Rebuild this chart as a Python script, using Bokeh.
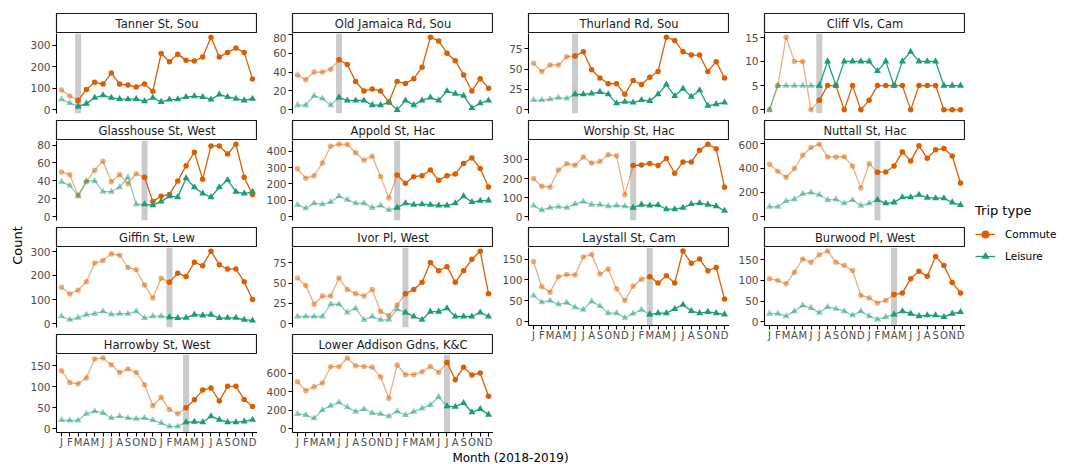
import math
from bokeh.plotting import figure
from bokeh.models import Span, Label, Legend, LegendItem, FixedTicker, Range1d, ColumnDataSource
from bokeh.layouts import row, column
from bokeh.embed import file_html
from bokeh.resources import INLINE

# ---------------- data ----------------
month_labels = ["J", "F", "M", "A", "M", "J", "J", "A", "S", "O", "N", "D"] * 2
months = list(range(24))

names = ["Tanner St, Sou", "Old Jamaica Rd, Sou", "Thurland Rd, Sou", "Cliff Vls, Cam",
         "Glasshouse St, West", "Appold St, Hac", "Worship St, Hac", "Nuttall St, Hac",
         "Giffin St, Lew", "Ivor Pl, West", "Laystall St, Cam", "Burwood Pl, West",
         "Harrowby St, West", "Lower Addison Gdns, K&C"]

# month index (0 = Jan 2018) of the intervention
intervention = [2, 5, 5, 6, 10, 12, 12, 13, 13, 13, 14, 15, 15, 18]

commute_tanner = [92, 65, 44, 95, 128, 120, 171, 120, 115, 106, 120, 87, 262, 224, 259, 230, 227, 246, 338, 246, 267, 287, 267, 143]
leisure_tanner = [49, 32, 16, 29, 56, 68, 56, 51, 49, 51, 40, 56, 37, 48, 49, 60, 63, 60, 48, 71, 60, 52, 44, 52]
commute_oldjam = [37, 32, 40, 40, 43, 53, 48, 30, 20, 22, 20, 8, 30, 28, 33, 45, 77, 73, 60, 52, 37, 20, 33, 23]
leisure_oldjam = [5, 5, 15, 12, 5, 13, 10, 10, 10, 5, 5, 8, 0, 10, 5, 10, 13, 10, 20, 17, 15, 2, 7, 10]
commute_thurland = [57, 47, 55, 55, 65, 66, 71, 49, 39, 32, 32, 19, 36, 31, 40, 47, 89, 85, 71, 67, 67, 47, 59, 39]
leisure_thurland = [12, 12, 13, 15, 14, 19, 19, 20, 22, 19, 8, 10, 9, 12, 11, 19, 31, 17, 26, 16, 24, 5, 7, 9]
commute_cliff = [0, 5, 15, 10, 10, 0, 2, 5, 5, 0, 5, 0, 2, 5, 5, 5, 5, 0, 5, 5, 5, 0, 0, 0]
leisure_cliff = [0, 5, 5, 5, 5, 5, 5, 10, 5, 10, 10, 10, 10, 8, 10, 5, 10, 12, 10, 10, 10, 5, 5, 5]
commute_glass = [50, 47, 24, 39, 52, 62, 39, 47, 37, 48, 44, 17, 23, 25, 40, 57, 72, 42, 79, 79, 70, 81, 44, 25]
leisure_glass = [39, 35, 23, 40, 40, 28, 28, 33, 44, 14, 14, 13, 17, 23, 22, 43, 33, 26, 22, 33, 41, 28, 26, 28]
commute_appold = [292, 235, 250, 327, 429, 442, 440, 390, 344, 369, 246, 115, 254, 204, 244, 250, 285, 223, 250, 260, 325, 358, 294, 181]
leisure_appold = [73, 52, 83, 77, 90, 125, 104, 83, 83, 56, 69, 42, 56, 83, 73, 77, 73, 69, 69, 83, 125, 90, 98, 100]
commute_worship = [200, 160, 155, 245, 277, 270, 313, 281, 289, 324, 319, 115, 268, 271, 279, 268, 305, 228, 287, 287, 348, 380, 356, 155]
leisure_worship = [59, 35, 48, 53, 48, 67, 80, 64, 64, 56, 59, 56, 48, 64, 59, 62, 40, 40, 48, 67, 72, 64, 56, 32]
commute_nuttall = [431, 375, 325, 397, 506, 569, 597, 492, 492, 494, 417, 236, 436, 367, 369, 417, 533, 458, 583, 481, 550, 561, 500, 278]
leisure_nuttall = [83, 83, 130, 144, 189, 200, 181, 139, 144, 111, 139, 92, 111, 139, 111, 119, 161, 161, 181, 158, 153, 153, 119, 97]
commute_giffin = [151, 123, 139, 174, 251, 261, 289, 283, 233, 223, 160, 107, 188, 172, 209, 195, 254, 240, 300, 244, 226, 226, 174, 100]
leisure_giffin = [31, 17, 25, 38, 42, 52, 39, 42, 42, 52, 24, 32, 32, 27, 24, 25, 38, 35, 38, 24, 25, 25, 17, 14]
commute_ivor = [56, 47, 24, 34, 34, 56, 42, 37, 34, 42, 15, 10, 23, 37, 42, 51, 75, 65, 70, 51, 65, 79, 89, 37]
leisure_ivor = [9, 9, 9, 9, 24, 24, 14, 19, 5, 9, 5, 5, 18, 14, 9, 5, 15, 15, 19, 9, 9, 9, 14, 9]
commute_laystall = [144, 84, 71, 108, 113, 112, 155, 161, 114, 126, 79, 51, 85, 102, 108, 93, 110, 93, 169, 140, 150, 122, 130, 55]
leisure_laystall = [63, 47, 51, 42, 46, 35, 29, 49, 38, 21, 21, 10, 20, 29, 18, 21, 21, 31, 41, 26, 21, 24, 21, 18]
commute_burwood = [104, 100, 92, 120, 152, 144, 162, 171, 144, 136, 124, 64, 58, 46, 52, 66, 70, 104, 122, 110, 158, 136, 95, 70]
leisure_burwood = [20, 20, 14, 26, 40, 34, 22, 36, 32, 26, 16, 26, 14, 6, 12, 18, 26, 20, 14, 16, 16, 12, 20, 24]
commute_harrowby = [138, 110, 107, 121, 166, 168, 152, 134, 142, 134, 105, 55, 75, 46, 36, 50, 69, 92, 97, 66, 101, 101, 70, 53]
leisure_harrowby = [21, 20, 20, 36, 42, 38, 26, 30, 26, 24, 26, 21, 14, 6, 6, 16, 17, 16, 30, 22, 16, 16, 18, 22]
commute_addison = [507, 411, 454, 493, 668, 668, 761, 679, 671, 661, 561, 329, 686, 582, 582, 614, 671, 607, 714, 529, 661, 579, 600, 350]
leisure_addison = [161, 150, 114, 204, 250, 286, 232, 186, 214, 171, 161, 136, 189, 150, 186, 221, 257, 346, 243, 239, 279, 179, 214, 154]

y_ticks = [[0, 100, 200, 300], [0, 20, 40, 60, 80], [0, 25, 50, 75], [0, 5, 10, 15],
           [0, 20, 40, 60, 80], [0, 100, 200, 300, 400], [0, 100, 200, 300], [0, 200, 400, 600],
           [0, 100, 200, 300], [0, 25, 50, 75], [0, 50, 100, 150], [0, 50, 100, 150],
           [0, 50, 100, 150], [0, 200, 400, 600]]

commute = [commute_tanner, commute_oldjam, commute_thurland, commute_cliff, commute_glass,
           commute_appold, commute_worship, commute_nuttall, commute_giffin, commute_ivor,
           commute_laystall, commute_burwood, commute_harrowby, commute_addison]
leisure = [leisure_tanner, leisure_oldjam, leisure_thurland, leisure_cliff, leisure_glass,
           leisure_appold, leisure_worship, leisure_nuttall, leisure_giffin, leisure_ivor,
           leisure_laystall, leisure_burwood, leisure_harrowby, leisure_addison]

# ---------------- style ----------------
ORANGE = "#D95F02"
GREEN = "#1B9E77"
PRE_ALPHA = 0.5
FONT = "DejaVu Sans"
TICK_COLOR = "#4D4D4D"
FW, FH = 201, 80        # panel frame size
STRIP_H = 20
GAP = 7
XAXIS_H = 16
TOP = 13
TOTAL_H = 464


def strip(name, lb, top):
    s = figure(width=lb + FW, height=STRIP_H + top, x_range=Range1d(0, 1), y_range=Range1d(0, 1),
               min_border_left=lb, min_border_right=0, min_border_top=top, min_border_bottom=0,
               x_axis_location=None, y_axis_location=None, toolbar_location=None,
               output_backend="svg", title=None)
    s.grid.visible = False
    s.outline_line_color = "#1A1A1A"
    s.outline_line_width = 1.2
    s.background_fill_color = "white"
    s.add_layout(Label(x=0.5, y=0.5, text=name, text_align="center", text_baseline="middle",
                       text_font=FONT, text_font_size="11.5px", text_color="#1A1A1A"))
    return s


def style_axis(ax):
    ax.major_label_text_font = FONT
    ax.major_label_text_font_size = "10.5px"
    ax.major_label_text_color = TICK_COLOR
    ax.major_tick_out = 4
    ax.major_tick_in = 0
    ax.minor_tick_line_color = None
    ax.axis_line_color = "black"
    ax.axis_line_width = 1.1
    ax.major_tick_line_color = "black"
    ax.major_tick_line_width = 1.1


def panel(i, lb, show_x):
    com, lei, bar = commute[i], leisure[i], intervention[i]
    top = max(max(com), max(lei))
    bb = XAXIS_H if show_x else GAP
    p = figure(width=lb + FW, height=FH + bb,
               x_range=Range1d(-0.6, 23.6), y_range=Range1d(-0.05 * top, 1.05 * top),
               min_border_left=lb, min_border_right=0, min_border_top=0,
               min_border_bottom=bb,
               x_axis_location="below" if show_x else None,
               toolbar_location=None, output_backend="svg", title=None)
    p.grid.visible = False
    p.outline_line_color = None
    p.background_fill_color = "white"

    p.add_layout(Span(location=bar, dimension="height", line_color="#BEBEBE",
                      line_width=6, line_alpha=0.8, level="underlay"))

    pre = ColumnDataSource(dict(x=months[:bar + 1], c=com[:bar + 1], l=lei[:bar + 1]))
    post = ColumnDataSource(dict(x=months[bar:], c=com[bar:], l=lei[bar:]))
    for src, a in ((pre, PRE_ALPHA), (post, 1.0)):
        p.line("x", "c", source=src, line_color=ORANGE, line_width=1.3, line_alpha=a)
        p.line("x", "l", source=src, line_color=GREEN, line_width=1.3, line_alpha=a)
        p.scatter("x", "c", source=src, marker="circle", size=5.5, fill_color=ORANGE,
                  line_color=None, fill_alpha=a)
        p.scatter("x", "l", source=src, marker="triangle", size=7, fill_color=GREEN,
                  line_color=None, fill_alpha=a)

    ya = p.yaxis[0]
    ya.ticker = FixedTicker(ticks=y_ticks[i])
    style_axis(ya)
    ya.major_label_standoff = 2
    if show_x:
        xa = p.xaxis[0]
        xa.ticker = FixedTicker(ticks=months)
        xa.major_label_overrides = {m: month_labels[m] for m in months}
        style_axis(xa)
        xa.major_label_text_font_size = "10px"
        xa.major_label_standoff = 0
    return p


ncol = 4
cols = []
for c in range(ncol):
    lb = 30 if c == 0 else 35
    idx = [i for i in range(len(names)) if i % ncol == c]
    items = []
    for k, i in enumerate(idx):
        items.append(strip(names[i], lb, TOP if k == 0 else 0))
        items.append(panel(i, lb, show_x=(k == len(idx) - 1)))
    cols.append(column(*items, spacing=0))

col1_h = TOP + 4 * STRIP_H + 4 * FH + 3 * GAP + XAXIS_H
xt_h = TOTAL_H - col1_h

# y axis title
yt = figure(width=26, height=TOTAL_H, min_border=0, x_axis_location=None, y_axis_location=None,
            toolbar_location=None, output_backend="svg", title=None,
            x_range=Range1d(0, 1), y_range=Range1d(0, 1))
yt.grid.visible = False
yt.outline_line_color = None
yt.add_layout(Label(x=17, y=TOTAL_H - 245, x_units="screen", y_units="screen", text="Count",
                    angle=math.pi / 2, text_align="center", text_baseline="middle",
                    text_font=FONT, text_font_size="13px", text_color="black"))

# x axis title
xt = figure(width=939, height=xt_h, min_border=0, x_axis_location=None, y_axis_location=None,
            toolbar_location=None, output_backend="svg", title=None,
            x_range=Range1d(0, 1), y_range=Range1d(0, 1))
xt.grid.visible = False
xt.outline_line_color = None
xt.add_layout(Label(x=484, y=xt_h / 2, x_units="screen", y_units="screen", text="Month (2018-2019)",
                    text_align="center", text_baseline="middle",
                    text_font=FONT, text_font_size="12px", text_color="black"))

# legend
lf = figure(width=103, height=300, min_border_left=10, min_border_top=203, min_border_right=0,
            min_border_bottom=0, x_axis_location=None, y_axis_location=None,
            toolbar_location=None, output_backend="svg", title=None,
            x_range=Range1d(0, 1), y_range=Range1d(0, 1))
lf.grid.visible = False
lf.outline_line_color = None
nan = float("nan")
empty = ColumnDataSource(dict(x=[nan], y=[nan]))
cl = lf.line("x", "y", source=empty, line_color=ORANGE, line_width=1.3)
cs = lf.scatter("x", "y", source=empty, marker="circle", size=5.5, fill_color=ORANGE, line_color=None)
ll = lf.line("x", "y", source=empty, line_color=GREEN, line_width=1.3)
ls = lf.scatter("x", "y", source=empty, marker="triangle", size=7, fill_color=GREEN, line_color=None)
leg = Legend(items=[LegendItem(label="Commute", renderers=[cl, cs]),
                    LegendItem(label="Leisure", renderers=[ll, ls])],
             title="Trip type", location="top_left", margin=0, padding=0,
             border_line_color=None, background_fill_alpha=0,
             title_text_font=FONT, title_text_font_size="13px", title_text_font_style="normal",
             title_text_color="black", title_standoff=6,
             label_text_font=FONT, label_text_font_size="10.5px", label_text_color="black",
             glyph_width=20, glyph_height=20, label_height=20, spacing=2, label_standoff=10)
lf.add_layout(leg)

main = column(row(*cols, spacing=0), xt, spacing=0)
layout = row(yt, main, lf, spacing=0)

open("out.html", "w").write(file_html(layout, INLINE))
